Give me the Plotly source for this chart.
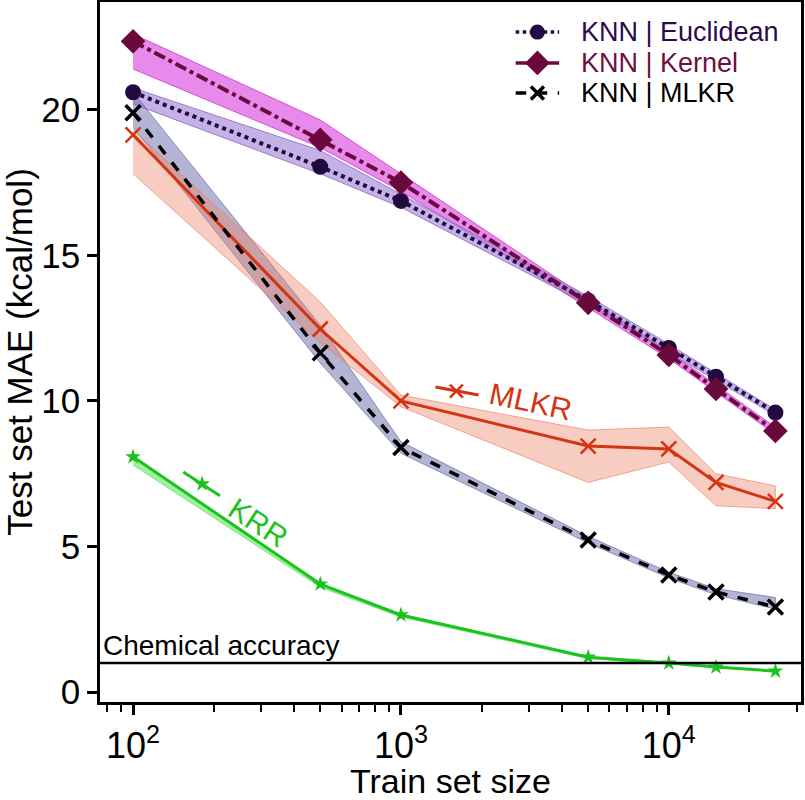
import plotly.graph_objects as go

train_sizes = [100, 500, 1000, 5000, 10000, 15000, 25000]

eu_mean = [20.6, 18.04, 16.87, 13.45, 11.82, 10.83, 9.6]
eu_lo = [20.2, 17.8, 16.65, 13.3, 11.65, 10.7, 9.5]
eu_hi = [20.75, 18.6, 17.1, 13.6, 11.95, 10.95, 9.7]

kr_mean = [22.35, 18.97, 17.5, 13.37, 11.58, 10.41, 8.97]
kr_lo = [21.4, 18.7, 17.2, 13.2, 11.45, 10.3, 8.85]
kr_hi = [22.6, 19.65, 17.8, 13.5, 11.7, 10.55, 9.1]

knn_mlkr_mean = [19.9, 11.65, 8.4, 5.22, 4.02, 3.44, 2.92]
knn_mlkr_lo = [19.4, 11.3, 8.2, 5.12, 3.92, 3.34, 2.85]
knn_mlkr_hi = [20.6, 12.6, 8.6, 5.35, 4.12, 3.55, 3.25]

mlkr_mean = [19.14, 12.47, 10.0, 8.45, 8.35, 7.2, 6.55]
mlkr_lo = [17.8, 12.0, 9.8, 7.2, 7.9, 6.4, 6.3]
mlkr_hi = [19.3, 13.4, 10.2, 9.0, 9.1, 7.5, 7.08]

krr_mean = [8.08, 3.71, 2.65, 1.2, 1.0, 0.86, 0.72]
krr_lo = [7.8, 3.6, 2.58, 1.15, 0.97, 0.84, 0.7]
krr_hi = [8.1, 3.73, 2.67, 1.22, 1.01, 0.87, 0.73]

chem_acc = 1.0

legend_names = ["KNN | Euclidean", "KNN | Kernel", "KNN | MLKR"]

x_tickvals = [100, 1000, 10000]
x_ticktext = ["10<sup>2</sup>", "10<sup>3</sup>", "10<sup>4</sup>"]
x_minor = [80, 90, 200, 300, 400, 500, 600, 700, 800, 900,
           2000, 3000, 4000, 5000, 6000, 7000, 8000, 9000, 20000, 30000]
y_tickvals = [0, 5, 10, 15, 20]

FONT = "Liberation Sans, Arial, sans-serif"

c_eu = "#220a40"
c_kr = "#6a0a3c"
c_mk = "#000000"
c_ml = "#d43412"
c_krr = "#1ec21e"

fig = go.Figure()


def band(lo, hi, fill, edge):
    fig.add_trace(go.Scatter(
        x=train_sizes + train_sizes[::-1], y=hi + lo[::-1],
        fill="toself", fillcolor=fill, mode="lines",
        line=dict(color=edge, width=1), hoverinfo="skip", showlegend=False))


band(kr_lo, kr_hi, "rgba(226,105,230,0.78)", "rgba(205,60,210,0.85)")
band(eu_lo, eu_hi, "rgba(165,135,215,0.65)", "rgba(140,100,200,0.8)")
band(knn_mlkr_lo, knn_mlkr_hi, "rgba(105,105,170,0.5)", "rgba(90,90,160,0.6)")
band(mlkr_lo, mlkr_hi, "rgba(238,130,100,0.4)", "rgba(235,120,90,0.6)")
band(krr_lo, krr_hi, "rgba(120,235,120,0.7)", "rgba(100,225,100,0.8)")

fig.add_trace(go.Scatter(
    x=train_sizes, y=mlkr_mean, mode="lines+markers",
    line=dict(color=c_ml, width=3),
    marker=dict(symbol="x-thin", size=15, line=dict(color=c_ml, width=2.5)),
    showlegend=False))
fig.add_trace(go.Scatter(
    x=train_sizes, y=krr_mean, mode="lines+markers",
    line=dict(color=c_krr, width=3),
    marker=dict(symbol="star", size=12, color=c_krr),
    showlegend=False))
fig.add_trace(go.Scatter(
    x=train_sizes, y=eu_mean, mode="lines+markers",
    line=dict(color=c_eu, width=4, dash="dot"),
    marker=dict(symbol="circle", size=16, color=c_eu), showlegend=False))
fig.add_trace(go.Scatter(
    x=train_sizes, y=kr_mean, mode="lines+markers",
    line=dict(color=c_kr, width=4, dash="dashdot"),
    marker=dict(symbol="diamond", size=19, color=c_kr), showlegend=False))
fig.add_trace(go.Scatter(
    x=train_sizes, y=knn_mlkr_mean, mode="lines+markers",
    line=dict(color=c_mk, width=3.5, dash="dash"),
    marker=dict(symbol="x-thin", size=15, line=dict(color=c_mk, width=3.5)),
    showlegend=False))

# inline label keys (in data coordinates)
fig.add_trace(go.Scatter(
    x=[1345, 1950], y=[10.48, 10.2], mode="lines",
    line=dict(color=c_ml, width=3), showlegend=False, hoverinfo="skip"))
fig.add_trace(go.Scatter(
    x=[1611], y=[10.34], mode="markers",
    marker=dict(symbol="x-thin", size=13, line=dict(color=c_ml, width=2.5)),
    showlegend=False, hoverinfo="skip"))
fig.add_trace(go.Scatter(
    x=[154, 211], y=[7.56, 6.74], mode="lines",
    line=dict(color=c_krr, width=3), showlegend=False, hoverinfo="skip"))
fig.add_trace(go.Scatter(
    x=[181], y=[7.15], mode="markers",
    marker=dict(symbol="star", size=12, color=c_krr),
    showlegend=False, hoverinfo="skip"))

# manual legend on an overlay axis spanning the plot area
leg_rows = [0.957, 0.913, 0.870]
leg_x0, leg_xm, leg_x1, leg_tx = 0.593, 0.624, 0.655, 0.683
leg_styles = [
    (c_eu, "dot", dict(symbol="circle", size=15, color=c_eu, opacity=1), "#2a0c4e"),
    (c_kr, "solid", dict(symbol="diamond", size=19, color=c_kr, opacity=1), "#6e1041"),
    (c_mk, "dash", dict(symbol="x-thin", size=13, line=dict(color=c_mk, width=3.5), opacity=1), "#000000"),
]
for name, yrow, (col, dash, mk, tcol) in zip(legend_names, leg_rows, leg_styles):
    fig.add_trace(go.Scatter(
        x=[leg_x0, leg_x1], y=[yrow] * 2, xaxis="x2", yaxis="y2",
        mode="lines", line=dict(color=col, width=3.5, dash=dash),
        showlegend=False, hoverinfo="skip"))
    fig.add_trace(go.Scatter(
        x=[leg_xm], y=[yrow], xaxis="x2", yaxis="y2",
        mode="markers", marker=mk, showlegend=False, hoverinfo="skip"))
    fig.add_annotation(x=leg_tx, y=yrow, xref="x2", yref="y2", text=name,
                       showarrow=False, xanchor="left", yanchor="middle",
                       font=dict(size=27, color=tcol, family=FONT))

fig.add_shape(type="line", xref="paper", x0=0, x1=1, yref="y", y0=chem_acc, y1=chem_acc,
              line=dict(color="black", width=2.5))

fig.add_annotation(x=0.002, xref="paper", y=chem_acc, yref="y", text="Chemical accuracy",
                   showarrow=False, xanchor="left", yanchor="bottom",
                   font=dict(size=28, color="black", family=FONT))
fig.add_annotation(x=3.484, xref="x", y=9.97, yref="y", text="MLKR", showarrow=False,
                   textangle=12, font=dict(size=30, color=c_ml, family=FONT))
fig.add_annotation(x=2.467, xref="x", y=5.84, yref="y", text="KRR", showarrow=False,
                   textangle=33, font=dict(size=30, color=c_krr, family=FONT))

fig.update_layout(
    width=805, height=800,
    margin=dict(l=100, r=4, t=2, b=98),
    plot_bgcolor="white", paper_bgcolor="white",
    font=dict(family=FONT, size=28, color="black"),
    showlegend=False,
    xaxis=dict(type="log", range=[1.8766, 4.4935], automargin=False,
               tickvals=x_tickvals, ticktext=x_ticktext,
               ticks="outside", ticklen=10, tickwidth=2.5, tickcolor="black",
               minor=dict(tickvals=x_minor, ticks="outside", ticklen=7, tickwidth=2, tickcolor="black"),
               showline=True, linewidth=2.5, linecolor="black", mirror=True,
               showgrid=False, zeroline=False,
               tickfont=dict(size=36, family=FONT),
               title=dict(text="Train set size", font=dict(size=34, family=FONT), standoff=6)),
    yaxis=dict(range=[-0.34, 23.7], tickvals=y_tickvals, automargin=False,
               ticks="outside", ticklen=10, tickwidth=2.5, tickcolor="black",
               showline=True, linewidth=2.5, linecolor="black", mirror=True,
               showgrid=False, zeroline=False,
               tickfont=dict(size=35, family=FONT),
               title=dict(text="Test set MAE (kcal/mol)", font=dict(size=35, family=FONT), standoff=6)),
    xaxis2=dict(overlaying="x", range=[0, 1], visible=False, fixedrange=True),
    yaxis2=dict(overlaying="y", range=[0, 1], visible=False, fixedrange=True),
)

fig.write_html("out.html")
